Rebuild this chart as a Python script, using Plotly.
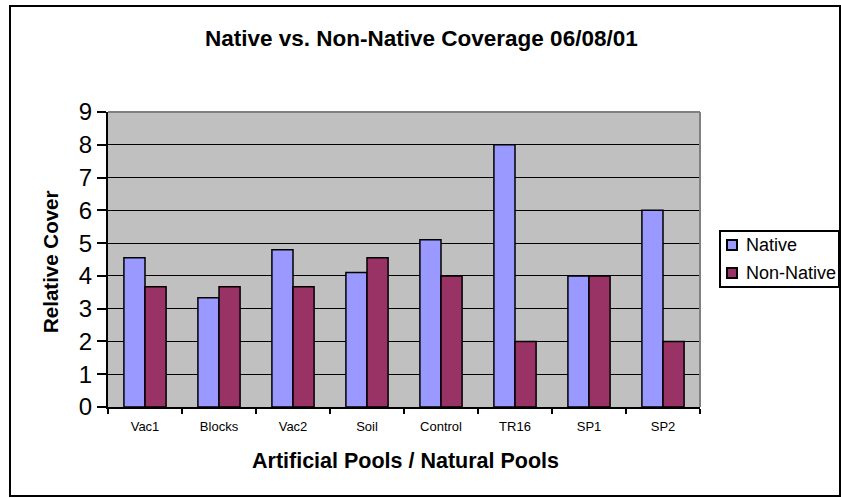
import plotly.graph_objects as go

# Pool sites and relative cover of native vs non-native plants
sites = ["Vac1", "Blocks", "Vac2", "Soil", "Control", "TR16", "SP1", "SP2"]
native = [4.55, 3.33, 4.8, 4.1, 5.1, 8, 4, 6]
non_native = [3.67, 3.67, 3.67, 4.55, 4.0, 2, 4, 2]
y_ticks = list(range(0, 10))

series = [("Native", native, "#9999FF"), ("Non-Native", non_native, "#993366")]

W, H = 841, 498
L, R, T, B = 108, 700, 112, 407  # plot area in pixels


def fx(x):
    return x / W


def fy(y):
    return 1 - y / H


FONT = "Liberation Sans, Arial, sans-serif"

fig = go.Figure()
for name, vals, color in series:
    fig.add_trace(go.Bar(
        x=sites, y=vals, name=name,
        marker=dict(color=color, line=dict(color="black", width=1.5)),
    ))

fig.update_layout(
    width=W, height=H,
    margin=dict(l=0, r=0, t=0, b=0, pad=0),
    paper_bgcolor="white",
    plot_bgcolor="#C0C0C0",
    barmode="group",
    bargap=0.43,
    bargroupgap=0,
    font=dict(family=FONT, color="black"),
    showlegend=False,
)

fig.update_xaxes(
    type="category", domain=[fx(L), fx(R)], automargin=False,
    showline=True, linecolor="black", linewidth=2,
    ticks="outside", tickson="boundaries", ticklen=5, tickwidth=2, tickcolor="black",
    ticklabelstandoff=6,
    tickfont=dict(size=13, family=FONT),
    showgrid=False,
)
fig.update_yaxes(
    range=[0, 9], domain=[fy(B), fy(T)], automargin=False,
    tickvals=y_ticks,
    showline=True, linecolor="black", linewidth=2,
    ticks="outside", ticklen=9, tickwidth=2, tickcolor="black",
    tickfont=dict(size=24, family=FONT),
    showgrid=True, gridcolor="black", gridwidth=1,
    zeroline=False,
)

# titles
title_kw = dict(xref="paper", yref="paper", xanchor="center", yanchor="middle",
                showarrow=False)
fig.add_annotation(text="<b>Native vs. Non-Native Coverage 06/08/01</b>",
                   x=fx(422), y=fy(38), font=dict(size=22.5, family=FONT), **title_kw)
fig.add_annotation(text="<b>Artificial Pools / Natural Pools</b>",
                   x=fx(405), y=fy(461), font=dict(size=21.5, family=FONT), **title_kw)
fig.add_annotation(text="<b>Relative Cover</b>", textangle=-90,
                   x=fx(50), y=fy(262), font=dict(size=20.5, family=FONT), **title_kw)

# gray top and right edges of the plot area
fig.add_shape(type="line", xref="paper", yref="paper",
              x0=fx(L), x1=fx(R), y0=fy(T), y1=fy(T),
              line=dict(color="#808080", width=2))
fig.add_shape(type="line", xref="paper", yref="paper",
              x0=fx(R), x1=fx(R), y0=fy(B), y1=fy(T),
              line=dict(color="#808080", width=2))

# legend box with swatches
fig.add_shape(type="rect", xref="paper", yref="paper",
              x0=fx(720), x1=fx(839), y0=fy(287), y1=fy(231),
              line=dict(color="black", width=2), fillcolor="white")
for i, (name, vals, color) in enumerate(series):
    cy = 245 + 28 * i
    fig.add_shape(type="rect", xref="paper", yref="paper",
                  x0=fx(727), x1=fx(737), y0=fy(cy + 5), y1=fy(cy - 5),
                  line=dict(color="black", width=2), fillcolor=color)
    fig.add_annotation(text=name, x=fx(744), y=fy(cy), xref="paper", yref="paper",
                       xanchor="left", yanchor="middle", showarrow=False,
                       font=dict(size=18, family=FONT))

# outer chart frame
fig.add_shape(type="rect", xref="paper", yref="paper",
              x0=fx(10), x1=fx(840), y0=fy(496), y1=fy(6),
              line=dict(color="black", width=2), fillcolor="rgba(0,0,0,0)",
              layer="above")

fig.write_html("out.html")
